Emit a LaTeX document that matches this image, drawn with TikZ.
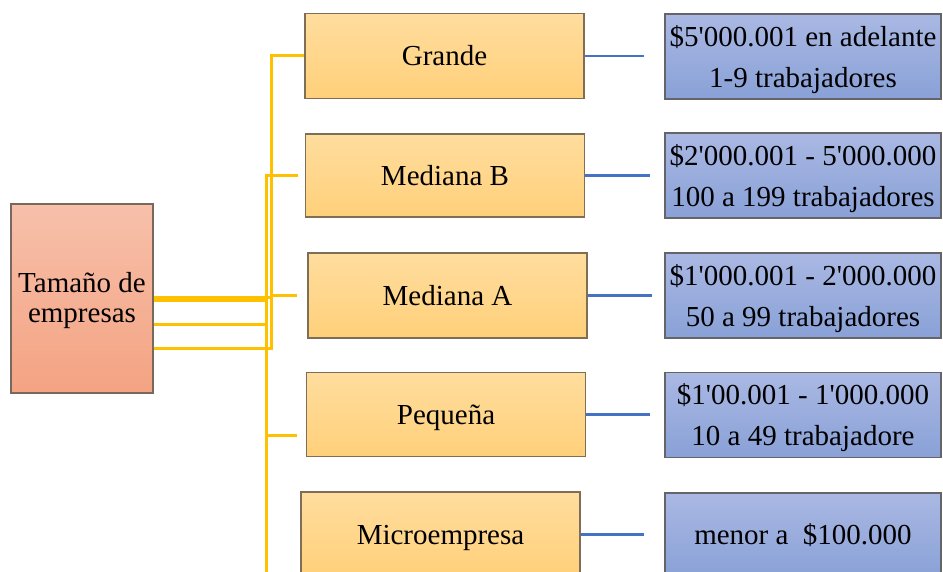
\documentclass[tikz,border=0pt]{standalone}
\usepackage{fontspec}
\newfontfamily\diagfont{Liberation Serif}
\usetikzlibrary{calc}

\definecolor{roottop}{RGB}{247,192,170}
\definecolor{rootbot}{RGB}{244,163,130}
\definecolor{rootedge}{RGB}{120,105,95}
\definecolor{leveltop}{RGB}{255,221,158}
\definecolor{levelbot}{RGB}{255,208,122}
\definecolor{leveledge}{RGB}{125,110,85}
\definecolor{rangetop}{RGB}{170,184,227}
\definecolor{rangebot}{RGB}{137,161,215}
\definecolor{rangeedge}{RGB}{100,100,105}
\definecolor{feedline}{RGB}{255,192,0}
\definecolor{linkline}{RGB}{68,114,196}

\newcommand\firstline[1]{\rule{0pt}{#1}}

\tikzset{
  rootbox/.style={draw=rootedge, line width=1.1pt, top color=roottop, bottom color=rootbot,
    minimum width=142pt, minimum height=189pt, inner sep=0pt, align=center,
    font=\diagfont\fontsize{29}{30}\selectfont},
  levelbox/.style={draw=leveledge, line width=1.1pt, top color=leveltop, bottom color=levelbot,
    minimum width=279pt, minimum height=85pt, inner sep=0pt, align=center,
    text height=20pt, text depth=0pt,
    font=\diagfont\fontsize{29}{34}\selectfont},
  rangebox/.style={draw=rangeedge, line width=1.1pt, top color=rangetop, bottom color=rangebot,
    minimum width=276pt, minimum height=85pt, inner sep=0pt, align=center,
    font=\diagfont\fontsize{29}{41}\selectfont},
  feed/.style={draw=feedline, line width=3pt},
  link/.style={draw=linkline, line width=2.4pt}
}

\begin{document}
\begin{tikzpicture}[x=1pt, y=-1pt]
\useasboundingbox (0,0) rectangle (943,572);
\clip (0,0) rectangle (943,572);

% root
\node[rootbox] (root) at (82,298.5) {\firstline{25pt}Tamaño de\\empresas};

% size categories
\node[levelbox] (g)  at (444.5,56)   {Grande};
\node[levelbox, minimum height=83pt] (mb) at (445,175.5) {Mediana B};
\node[levelbox] (ma) at (447.5,295.5) {Mediana A};
\node[levelbox, minimum height=84pt] (pq) at (446,414.5) {Pequeña};
\node[levelbox] (mi) at (440.5,534.5) {Microempresa};

% ranges
\node[rangebox] (b1) at (803,56.5)  {\firstline{27pt}\$5\symbol{39}000.001 en adelante\\1-9 trabajadores};
\node[rangebox] (b2) at (803,175.5) {\firstline{27pt}\$2\symbol{39}000.001 - 5\symbol{39}000.000\\100 a 199 trabajadores};
\node[rangebox] (b3) at (803,295.5) {\firstline{27pt}\$1\symbol{39}000.001 - 2\symbol{39}000.000\\50 a 99 trabajadores};
\node[rangebox] (b4) at (803,415)   {\firstline{27pt}\$1\symbol{39}00.001 - 1\symbol{39}000.000\\10 a 49 trabajadore};
\node[rangebox] (b5) at (803,535.5) {menor a~~\$100.000};

% trunk lines of the tree
\coordinate (trunkA) at (271,0);
\coordinate (trunkB) at (266,0);
\coordinate (tail) at (266,600);

% yellow tree connectors
\draw[feed] ([yshift=-49.5pt]root.east) -| (trunkA |- g.west) -- (g.west);
\draw[feed] ([yshift=-25.5pt]root.east) -| (trunkB |- mb.west) -- ([xshift=-7pt]mb.west);
\draw[feed] ([yshift=0.5pt]root.east) -| (trunkA |- ma.west) -- ([xshift=-10pt]ma.west);
\draw[feed] ([yshift=0pt]root.east) -| (trunkB |- 0,435) -- ([xshift=-9pt,yshift=-20.5pt]pq.west);
\draw[feed] ([yshift=-2.5pt]root.east) -| (tail);

% blue links to ranges
\draw[link] (g.east)  -- ([xshift=-20pt]b1.west |- g.east);
\draw[link] (mb.east) -- ([xshift=-14pt]b2.west |- mb.east);
\draw[link] (ma.east) -- ([xshift=-12pt]b3.west |- ma.east);
\draw[link] (pq.east) -- ([xshift=-14pt]b4.west |- pq.east);
\draw[link] (mi.east) -- ([xshift=-20pt]b5.west |- mi.east);
\end{tikzpicture}
\end{document}
